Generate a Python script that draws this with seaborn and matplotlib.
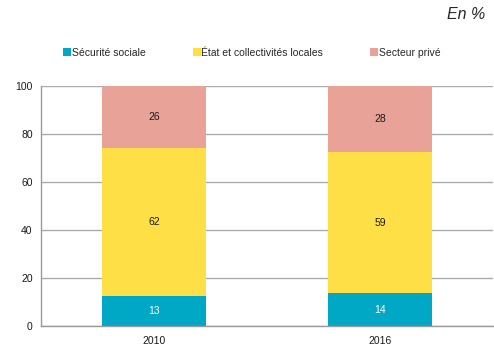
import numpy as np
import pandas as pd
import matplotlib
matplotlib.use("Agg")
import matplotlib.pyplot as plt
from matplotlib.lines import Line2D
import seaborn as sns

# --- Données (en %) ---
annees = ['2010', '2016']
series = ['Sécurité sociale', 'État et collectivités locales', 'Secteur privé']
securite_sociale = [12.6, 13.7]
etat_collectivites = [61.6, 58.7]
secteur_prive = [25.8, 27.6]
couleurs = ['#00A8C6', '#FEE046', '#E9A298']
couleurs_texte = ['white', '#1a1a1a', '#1a1a1a']

valeurs = [securite_sociale, etat_collectivites, secteur_prive]

sns.set_style("white")
plt.rcParams['font.family'] = ['Liberation Sans', 'DejaVu Sans']

fig = plt.figure(figsize=(4.94, 3.47), dpi=100)
ax = fig.add_axes([0.083, 0.0605, 0.915, 0.692])

# empilement : on dessine les cumuls du plus haut au plus bas
cumul = np.cumsum(np.array(valeurs), axis=0)
for i in reversed(range(len(series))):
    df = pd.DataFrame({'annee': annees, 'valeur': cumul[i]})
    sns.barplot(data=df, x='annee', y='valeur', color=couleurs[i], width=0.456,
                saturation=1, linewidth=0, ax=ax, zorder=2)

# étiquettes centrées dans chaque segment
bas = np.zeros(len(annees))
for i, v in enumerate(valeurs):
    for j, val in enumerate(v):
        ax.text(j, bas[j] + val / 2, f"{val:.0f}", ha='center', va='center',
                fontsize=7.5, color=couleurs_texte[i], zorder=3)
    bas += np.array(v)

ax.set_ylim(0, 100)
ax.set_xlim(-0.5, 1.5)
ax.set_yticks([0, 20, 40, 60, 80, 100])
ax.yaxis.grid(True, color='#ABABAB', linewidth=1)
ax.set_axisbelow(True)
ax.set_xlabel('')
ax.set_ylabel('')

for s in ['top', 'right']:
    ax.spines[s].set_visible(False)
for s in ['left', 'bottom']:
    ax.spines[s].set_color('#9A9A9A')
    ax.spines[s].set_linewidth(1)

ax.tick_params(axis='x', which='major', length=0, labelsize=7.5, pad=7, colors='#1a1a1a')
ax.set_xticks([-0.5, 0.5, 1.5], minor=True)
ax.tick_params(axis='x', which='minor', length=4, color='#9A9A9A', width=1)
ax.tick_params(axis='y', length=3, color='#9A9A9A', labelsize=7.5, pad=3, colors='#1a1a1a')
ax.tick_params(axis='y', colors='#9A9A9A', labelcolor='#1a1a1a')

# légende
poignees = [Line2D([0], [0], marker='s', linestyle='', markersize=5.5,
                   markerfacecolor=c, markeredgewidth=0) for c in couleurs]
fig.legend(poignees, series, loc='center', bbox_to_anchor=(0.51, 0.848), ncol=3,
           frameon=False, fontsize=7.5, handletextpad=0.05, columnspacing=4.5,
           handlelength=0.8)

fig.text(0.982, 0.957, 'En %', ha='right', va='center', fontsize=11.5, style='italic')

fig.savefig('out.png', dpi=100)
